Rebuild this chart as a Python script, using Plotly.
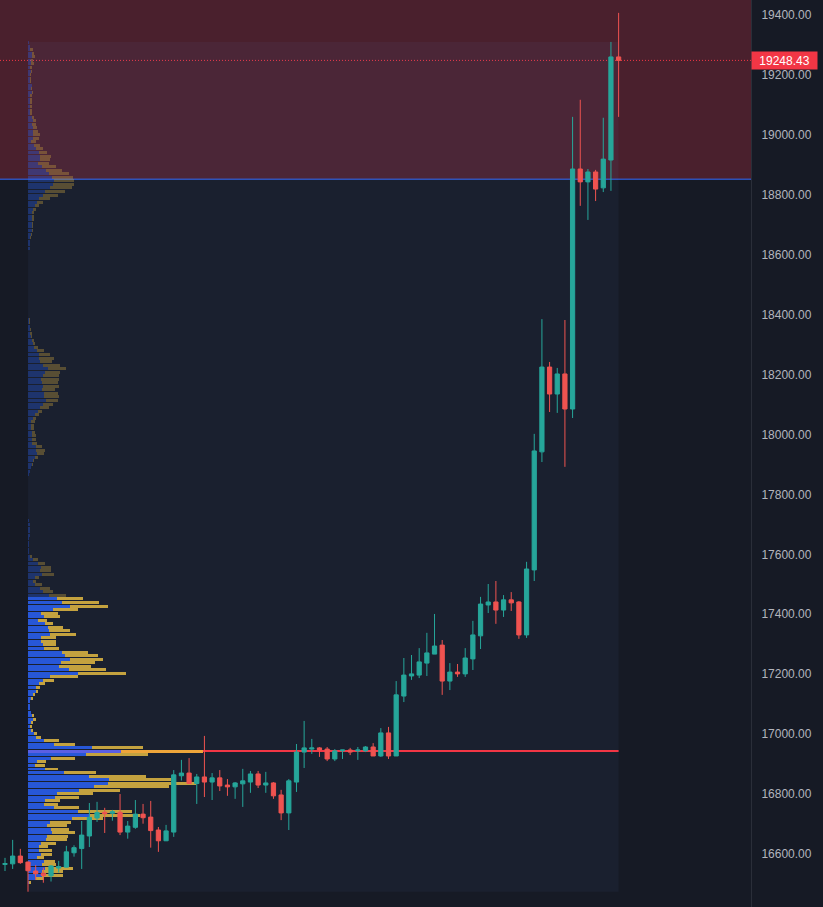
import plotly.graph_objects as go

# ---------------- candle data (index 0 = first full candle on the left) ----------------
candle_open = [16565, 16567, 16593, 16573, 16543, 16536, 16527, 16553, 16556, 16604,
               16618, 16660, 16720, 16739, 16736, 16739, 16673, 16689, 16733, 16723,
               16680, 16644, 16673, 16861, 16870, 16835, 16857, 16840, 16854, 16830,
               16824, 16834, 16840, 16867, 16830, 16837, 16797, 16737, 16840, 16940,
               16950, 16954, 16950, 16917, 16944, 16947, 16944, 16944, 16957, 16927,
               17004, 16927, 17127, 17194, 17197, 17237, 17267, 17297, 17177, 17207,
               17201, 17251, 17328, 17431, 17441, 17414, 17448, 17441, 17331, 17548,
               17942, 18225, 18135, 18202, 18085, 18886, 18843, 18876, 18823, 18916,
               19260]
candle_high = [16587, 16647, 16617, 16575, 16563, 16554, 16563, 16577, 16627, 16629,
               16710, 16770, 16774, 16754, 16747, 16800, 16710, 16780, 16767, 16777,
               16690, 16697, 16880, 16914, 16920, 16867, 16994, 16870, 16880, 16850,
               16840, 16884, 16877, 16877, 16874, 16840, 16814, 16850, 16967, 17044,
               16984, 16957, 16957, 16950, 16947, 16954, 16957, 16960, 16970, 17020,
               17024, 17177, 17254, 17264, 17287, 17338, 17401, 17314, 17237, 17234,
               17287, 17378, 17458, 17501, 17511, 17464, 17474, 17444, 17575, 18002,
               18385, 18242, 18222, 18382, 19060, 19117, 18886, 18883, 19057, 19310,
               19407]
candle_low = [16543, 16550, 16567, 16474, 16513, 16504, 16508, 16538, 16556, 16591,
              16550, 16623, 16707, 16670, 16711, 16663, 16651, 16684, 16701, 16621,
              16607, 16643, 16657, 16845, 16834, 16767, 16790, 16780, 16810, 16794,
              16784, 16757, 16804, 16820, 16804, 16784, 16713, 16680, 16807, 16887,
              16934, 16924, 16910, 16910, 16917, 16930, 16914, 16940, 16927, 16924,
              16917, 16927, 17107, 17181, 17187, 17194, 17267, 17131, 17147, 17191,
              17191, 17214, 17284, 17404, 17368, 17391, 17411, 17318, 17321, 17511,
              17908, 18075, 18072, 17892, 18055, 18763, 18716, 18779, 18809, 18813,
              19060]
candle_close = [16568, 16593, 16571, 16544, 16534, 16528, 16560, 16558, 16607, 16621,
                16663, 16722, 16738, 16734, 16741, 16673, 16693, 16733, 16721, 16678,
                16644, 16677, 16864, 16870, 16835, 16857, 16840, 16854, 16827, 16824,
                16837, 16844, 16867, 16830, 16837, 16794, 16737, 16844, 16940, 16954,
                16954, 16947, 16917, 16944, 16947, 16940, 16947, 16957, 16927, 17004,
                16927, 17131, 17197, 17201, 17241, 17271, 17294, 17177, 17207, 17201,
                17254, 17331, 17434, 17441, 17414, 17448, 17438, 17331, 17551, 17945,
                18225, 18135, 18202, 18085, 18886, 18843, 18876, 18819, 18919, 19260,
                19248.43]
candle_idx = list(range(len(candle_open)))

# ---------------- volume profile (rows listed from the top row downwards) ----------------
vp_up = [1, 2, 2, 4, 4, 3, 3, 2, 3, 2, 2, 2, 4, 3, 4, 2, 2, 2, 2, 2,
         2, 4, 5, 4, 5, 5, 5, 5, 3, 6, 8, 11, 12, 12, 10, 14, 18, 21, 24, 26,
         25, 22, 17, 15, 11, 9, 7, 5, 4, 4, 4, 4, 4, 4, 3, 2, 2, 2, 2,
         0, 0, 0, 0, 0, 0, 0, 0, 0, 0, 0, 0, 0, 0, 0, 0, 0, 0, 0,
         1, 1, 2, 2, 2, 3, 4, 5, 6, 9, 11, 11, 12, 15, 20, 17, 15, 13, 14, 15,
         14, 16, 16, 18, 15, 12, 10, 7, 5, 3, 3, 3, 4, 4, 4, 4, 8, 8, 9, 7,
         5, 4, 3, 2, 1,
         0, 0, 0, 0, 0, 0, 0, 0, 0, 0, 0, 0,
         1, 2, 2, 2, 2, 1, 1, 1, 1, 1, 2, 5, 10, 13, 12, 14, 7, 5, 7, 12, 15, 21,
         29, 34, 42, 25, 13, 16, 10, 17, 20, 21, 22, 13, 13, 15, 16, 34, 37, 42, 33, 31,
         41, 50, 22, 15, 11, 8, 8, 5, 3, 1, 2, 2, 3, 4, 5, 3, 2, 3, 6, 8,
         16, 26, 64, 93, 58, 23, 9, 7, 17, 36, 61, 81, 80, 66, 51, 29, 27, 17, 16, 26,
         50, 62, 44, 22, 19, 23, 24, 19, 18, 13, 11, 11, 13, 9, 16, 14, 17, 14, 14, 8,
         1]
vp_down = [0, 0, 3, 2, 3, 2, 3, 2, 1, 1, 1, 1, 0, 1, 1, 2, 2, 2, 2, 2,
           2, 2, 3, 4, 4, 5, 7, 6, 5, 6, 7, 8, 11, 10, 11, 14, 16, 20, 21, 20,
           21, 22, 20, 15, 11, 6, 4, 3, 2, 2, 2, 1, 1, 1, 1, 1, 0, 0, 0,
           0, 0, 0, 0, 0, 0, 0, 0, 0, 0, 0, 0, 0, 0, 0, 0, 0, 0, 0,
           1, 1, 0, 1, 2, 1, 2, 2, 4, 7, 11, 15, 12, 17, 18, 15, 16, 18, 16, 16,
           13, 14, 15, 12, 10, 9, 4, 4, 3, 4, 3, 3, 3, 4, 4, 5, 6, 9, 7, 3,
           1, 1, 0, 0, 0,
           0, 0, 0, 0, 0, 0, 0, 0, 0, 0, 0, 0,
           0, 0, 0, 0, 0, 0, 0, 0, 0, 0, 2, 5, 7, 10, 11, 12, 4, 3, 7, 10, 10, 17,
           26, 37, 38, 25, 17, 16, 9, 8, 15, 21, 26, 15, 15, 13, 15, 26, 33, 33, 34, 32,
           37, 48, 28, 11, 6, 4, 1, 2, 2, 0, 0, 0, 0, 2, 3, 2, 2, 2, 3, 5,
           15, 21, 51, 82, 62, 24, 9, 10, 13, 32, 57, 62, 88, 75, 41, 36, 24, 15, 14, 25,
           54, 50, 31, 21, 20, 18, 23, 21, 21, 15, 9, 13, 11, 7, 11, 14, 28, 21, 21, 8,
           2]
vp_row_top = 19307.5       # centre price of the top profile row
vp_row_size = 11.824       # price height of one profile row
vp_levels = [vp_row_top - vp_row_size * j for j in range(len(vp_up))]
vp_value_area_high = 17452  # rows at/below this price are in the value area
vp_start_bar = 3            # profile range: from this candle ...
vp_end_bar = 80             # ... to this candle
vp_low = 16474
vp_high = 19310
poc_price = 16944
zone_low = 18852            # bottom of the red supply zone
last_price = 19248.43
y_ticks = [16600, 16800, 17000, 17200, 17400, 17600, 17800, 18000, 18200,
           18400, 18600, 18800, 19000, 19200, 19400]

# ---------------- styling ----------------
BG = "#161a25"
UP = "#26a69a"
DOWN = "#ef5350"
BAR_SCALE = 1 / 7.667       # profile length units -> candle index units

totals = [u + d for u, d in zip(vp_up, vp_down)]
poc_row = totals.index(max(totals))
up_cols, dn_cols = [], []
for j, lvl in enumerate(vp_levels):
    if j == poc_row:
        up_cols.append("#5b5fe3")
        dn_cols.append("#eea53a")
    elif lvl <= vp_value_area_high:
        up_cols.append("#2757d8")
        dn_cols.append("#c4a23f")
    else:
        up_cols.append("rgba(41,98,255,0.30)")
        dn_cols.append("rgba(200,162,60,0.36)")

fig = go.Figure()

fig.add_trace(go.Bar(
    orientation="h", y=vp_levels,
    x=[u * BAR_SCALE for u in vp_up],
    base=vp_start_bar,
    width=10, marker=dict(color=up_cols, line=dict(width=0)),
    hoverinfo="skip", showlegend=False))
fig.add_trace(go.Bar(
    orientation="h", y=vp_levels,
    x=[d * BAR_SCALE for d in vp_down],
    base=[vp_start_bar + u * BAR_SCALE for u in vp_up],
    width=10, marker=dict(color=dn_cols, line=dict(width=0)),
    hoverinfo="skip", showlegend=False))

fig.add_trace(go.Candlestick(
    x=candle_idx, open=candle_open, high=candle_high, low=candle_low, close=candle_close,
    increasing=dict(line=dict(color=UP, width=1), fillcolor=UP),
    decreasing=dict(line=dict(color=DOWN, width=1), fillcolor=DOWN),
    whiskerwidth=0, showlegend=False, hoverinfo="skip"))

shapes = [
    # red zone
    dict(type="rect", xref="x domain", yref="y", x0=0, x1=1, y0=zone_low, y1=19470,
         fillcolor="rgba(242,54,69,0.24)", line=dict(width=0), layer="below"),
    # volume-profile range box
    dict(type="rect", xref="x", yref="y", x0=vp_start_bar, x1=vp_end_bar, y0=vp_low, y1=vp_high,
         fillcolor="rgba(100,140,220,0.06)", line=dict(width=0), layer="below"),
    # zone border line
    dict(type="line", xref="x domain", yref="y", x0=0, x1=1, y0=zone_low, y1=zone_low,
         line=dict(color="#2f6bff", width=1), layer="below"),
    # POC line
    dict(type="line", xref="x", yref="y", x0=vp_start_bar, x1=vp_end_bar, y0=poc_price, y1=poc_price,
         line=dict(color="#f23645", width=2), layer="below"),
    # last price dotted line
    dict(type="line", xref="x domain", yref="y", x0=0, x1=1, y0=last_price, y1=last_price,
         line=dict(color="#f23645", width=1, dash="1px,2px"), layer="below"),
]

fig.update_layout(
    width=823, height=907,
    margin=dict(l=0, r=72, t=0, b=0),
    paper_bgcolor=BG, plot_bgcolor=BG,
    shapes=shapes,
    barmode="overlay", bargap=0,
    boxgap=0.45, boxgroupgap=0,
    showlegend=False,
    xaxis=dict(range=[-0.652, 97.26], visible=False, showgrid=False, zeroline=False,
               rangeslider=dict(visible=False), fixedrange=True),
    yaxis=dict(range=[16423, 19450], side="right", showgrid=False, zeroline=False,
               tickvals=y_ticks, ticktext=[f"{v:.2f}" for v in y_ticks],
               ticks="outside", ticklen=7, tickcolor="rgba(0,0,0,0)",
               tickfont=dict(family="Liberation Sans, Arial, sans-serif", size=12, color="#b2b5be"),
               showline=True, linecolor="#2a2e39", linewidth=1, fixedrange=True),
    annotations=[dict(
        xref="paper", yref="y", x=1.0, y=last_price, xanchor="left", yanchor="middle",
        text=f"{last_price:.2f}", showarrow=False,
        font=dict(family="Liberation Sans, Arial, sans-serif", size=12, color="#ffffff"),
        bgcolor="#f23645", width=61, height=13, borderpad=2, align="center")],
)

fig.write_html("out.html", config=dict(displayModeBar=False),
               post_script="document.body.style.margin='0';")
